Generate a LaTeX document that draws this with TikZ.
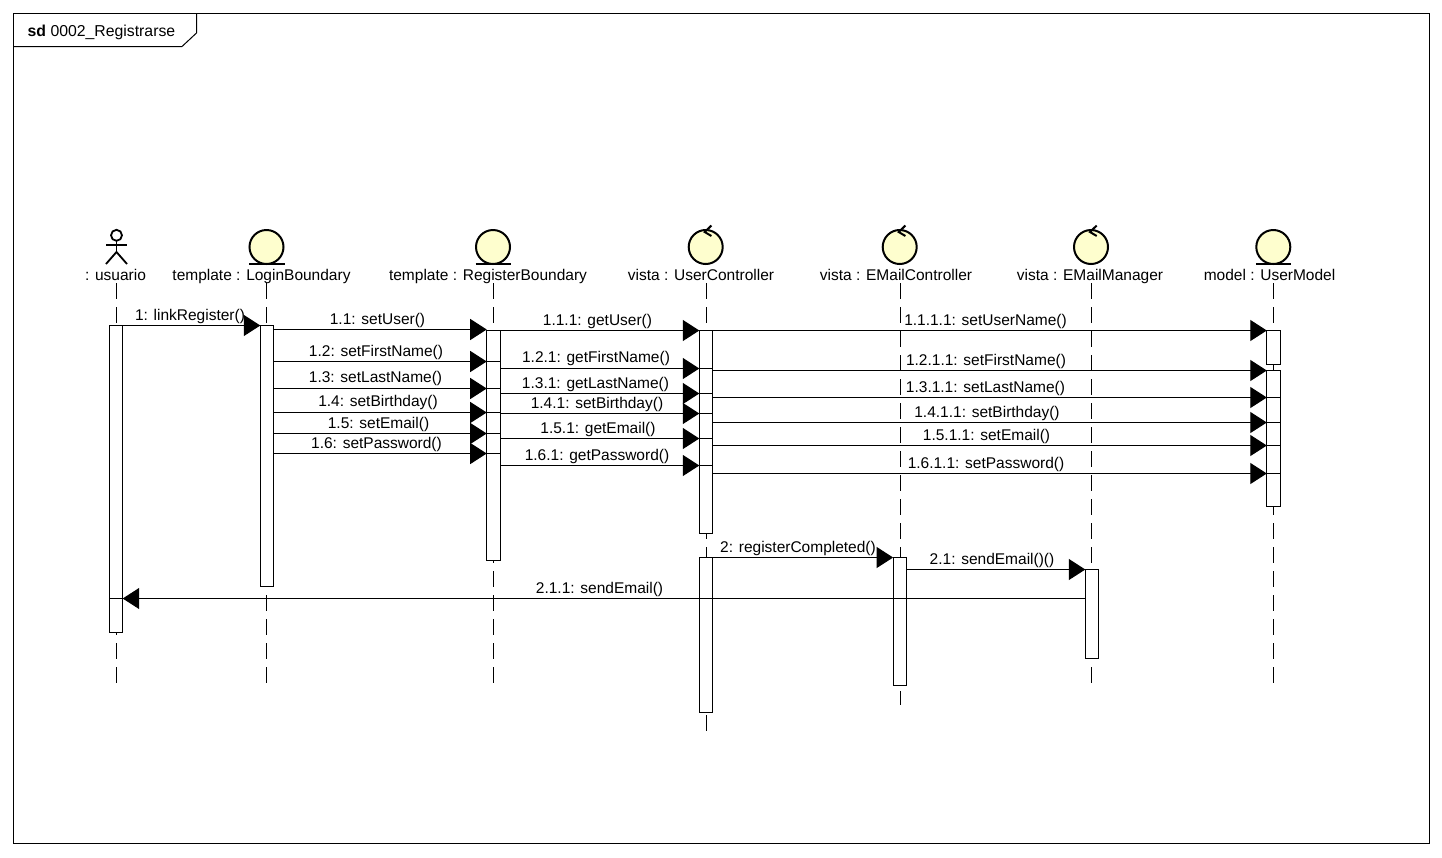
\documentclass[tikz,border=0pt]{standalone}
\usepackage{fontspec}
\setmainfont{Liberation Sans}
\usetikzlibrary{arrows.meta}
\definecolor{iconfill}{HTML}{FEFECE}
\tikzset{
  lifeline/.style={draw=black,line width=1pt,dash pattern=on 16pt off 8pt},
  actbox/.style={draw=black,fill=white,line width=1pt,minimum width=13.4pt,inner sep=0pt,outer sep=0pt,anchor=north},
  msgarrow/.style={draw=black,line width=1.1pt,-{Triangle[length=16.5pt,width=21pt,fill=black]}},
  innerline/.style={draw=black,line width=1pt},
  txt/.style={font=\fontsize{15.5}{18}\selectfont,inner sep=0pt,anchor=base,yshift=-5pt},
  icon/.style={circle,draw=black,fill=iconfill,line width=2pt,minimum size=34pt,inner sep=0pt,outer sep=0pt},
  iconline/.style={draw=black,line width=2pt},
  framepen/.style={draw=black,line width=1pt}
}
\newcommand{\headlabel}[4]{\node[txt] (#1) at (#2,#3) {#4};}
\newcommand{\actbar}[4]{\node[actbox,minimum height=#4pt] (#1) at (#2,#3) {};}
\newcommand{\msgline}[7]{%
  \draw[msgarrow] (#1 |- 0,#3) -- (#2 |- 0,#3);
  \node[txt] (#4) at (#5,#6) {#7};}
\newcommand{\splitline}[2]{\draw[innerline] (#1.west |- 0,#2) -- (#1.east |- 0,#2);}
\newcommand{\controlicon}[3]{%
  \node[icon] (#1) at (#2,#3) {};
  \draw[iconline] (#2+5.7,#3-21.5) -- (#2-1,#3-15) -- (#2+5.7,#3-11);}
\newcommand{\boundaryicon}[3]{%
  \node[icon] (#1) at (#2,#3) {};
  \draw[iconline] (#2-17.5,#3+17) -- (#2+18,#3+17);}
\begin{document}
\begin{tikzpicture}[x=1pt,y=-1pt]
\useasboundingbox[fill=white] (0,0) rectangle (1442,857);
% frame
\node[minimum width=1416pt,minimum height=830pt,draw=black,line width=1pt,inner sep=0pt,outer sep=0pt] (frame) at (721.5,428.5) {};
\draw[framepen] (13.5,46.5) -- (182,46.5) -- (196.5,33) -- (196.5,13.5);
\node[txt,anchor=base west,font=\fontsize{15.8}{18}\selectfont] (frametitle) at (27.5,31) {\textbf{sd} 0002\_Registrarse};
% actor
\coordinate (uNeck) at (116.5,241);
\coordinate (uHip) at (116.5,252);
\draw[iconline,line width=1.8pt] (116.5,235.3) circle[radius=5.5];
\draw[iconline,line width=1.8pt] (uNeck) -- (uHip);
\draw[iconline,line width=1.8pt] (106,245) -- (127,245);
\draw[iconline,line width=1.8pt] (106,264) -- (uHip) -- (127,264);
% icons
\boundaryicon{iLogin}{266.5}{247}
\boundaryicon{iReg}{493}{247}
\controlicon{iUser}{705.7}{247}
\controlicon{iECtrl}{899.7}{247}
\controlicon{iMgr}{1091}{247}
\boundaryicon{iModel}{1273.3}{247}
% header labels
\headlabel{hUsuario}{115.5}{275.5}{: usuario}
\headlabel{hLogin}{261.5}{275.5}{template : LoginBoundary}
\headlabel{hReg}{488}{275.5}{template : RegisterBoundary}
\headlabel{hUser}{701}{275.5}{vista : UserController}
\headlabel{hECtrl}{896}{275.5}{vista : EMailController}
\headlabel{hMgr}{1090}{275.5}{vista : EMailManager}
\headlabel{hModel}{1269.5}{275.5}{model : UserModel}
% lifelines
\foreach \n/\x/\e in {Usuario/116/683,Login/266.5/683,Reg/493/683,User/706/731,ECtrl/900/705,Mgr/1091.5/683,Model/1273.5/683}{
  \coordinate (s\n) at (\x,283);
  \coordinate (e\n) at (\x,\e);
  \draw[lifeline] (s\n) -- (e\n);
}
% activations
\actbar{aUsuario}{116}{325.5}{307}
\actbar{aLogin}{267}{325.5}{260.5}
\actbar{aReg}{493.4}{330}{230}
\actbar{aUserA}{706}{330.5}{202.5}
\actbar{aUserB}{706}{557.5}{154.5}
\actbar{aECtrl}{899.8}{557.5}{128}
\actbar{aMgr}{1092}{569.5}{89}
\actbar{aModelA}{1273.5}{330.5}{33.5}
\actbar{aModelB}{1273.5}{370.5}{135.5}
% stacked activation edges
\splitline{aReg}{361.5}
\splitline{aReg}{388.5}
\splitline{aReg}{412.5}
\splitline{aReg}{433.5}
\splitline{aReg}{453.5}
\splitline{aUserA}{368.5}
\splitline{aUserA}{393.5}
\splitline{aUserA}{413.5}
\splitline{aUserA}{438.5}
\splitline{aUserA}{465.5}
\splitline{aModelB}{397.5}
\splitline{aModelB}{422.5}
\splitline{aModelB}{445.5}
\splitline{aModelB}{473.5}
\splitline{aUsuario}{598.5}
% messages
\msgline{aUsuario.east}{aLogin.west}{325.5}{m1}{190}{315}{1: linkRegister()}
\msgline{aLogin.east}{aReg.west}{329.5}{m11}{377.5}{319.5}{1.1: setUser()}
\msgline{aLogin.east}{aReg.west}{361.5}{m12}{376}{351}{1.2: setFirstName()}
\msgline{aLogin.east}{aReg.west}{388.5}{m13}{375.5}{377}{1.3: setLastName()}
\msgline{aLogin.east}{aReg.west}{412.5}{m14}{378}{401}{1.4: setBirthday()}
\msgline{aLogin.east}{aReg.west}{433.5}{m15}{378.5}{423}{1.5: setEmail()}
\msgline{aLogin.east}{aReg.west}{453.5}{m16}{376.5}{443.5}{1.6: setPassword()}
\msgline{aReg.east}{aUserA.west}{330.5}{m111}{597.5}{320.5}{1.1.1: getUser()}
\msgline{aReg.east}{aUserA.west}{368.5}{m121}{596}{357.5}{1.2.1: getFirstName()}
\msgline{aReg.east}{aUserA.west}{393.5}{m131}{595.5}{383.5}{1.3.1: getLastName()}
\msgline{aReg.east}{aUserA.west}{413.5}{m141}{597}{403.5}{1.4.1: setBirthday()}
\msgline{aReg.east}{aUserA.west}{438.5}{m151}{598}{428.5}{1.5.1: getEmail()}
\msgline{aReg.east}{aUserA.west}{465.5}{m161}{597}{455.5}{1.6.1: getPassword()}
\msgline{aUserA.east}{aModelA.west}{330.5}{m1111}{985.5}{320.5}{1.1.1.1: setUserName()}
\msgline{aUserA.east}{aModelB.west}{370.5}{m1211}{986}{360.5}{1.2.1.1: setFirstName()}
\msgline{aUserA.east}{aModelB.west}{397.5}{m1311}{985.5}{387.5}{1.3.1.1: setLastName()}
\msgline{aUserA.east}{aModelB.west}{422.5}{m1411}{987}{412.5}{1.4.1.1: setBirthday()}
\msgline{aUserA.east}{aModelB.west}{445.5}{m1511}{986.5}{435.5}{1.5.1.1: setEmail()}
\msgline{aUserA.east}{aModelB.west}{473.5}{m1611}{986}{463.5}{1.6.1.1: setPassword()}
\msgline{aUserB.east}{aECtrl.west}{557.5}{m2}{798}{547.5}{2: registerCompleted()}
\msgline{aECtrl.east}{aMgr.west}{569.5}{m21}{992}{559.5}{2.1: sendEmail()()}
\msgline{aMgr.west}{aUsuario.east}{598.5}{m211}{599.5}{588.5}{2.1.1: sendEmail()}
\end{tikzpicture}
\end{document}
